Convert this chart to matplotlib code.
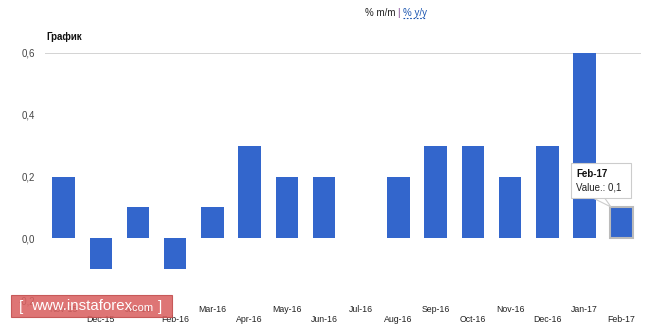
import numpy as np
import matplotlib.pyplot as plt
from matplotlib.patches import Polygon, Rectangle
from matplotlib.transforms import blended_transform_factory

plt.rcParams['font.family'] = ['Liberation Sans', 'DejaVu Sans']

months = ['Nov-15', 'Dec-15', 'Jan-16', 'Feb-16', 'Mar-16', 'Apr-16', 'May-16', 'Jun-16',
          'Jul-16', 'Aug-16', 'Sep-16', 'Oct-16', 'Nov-16', 'Dec-16', 'Jan-17', 'Feb-17']
values = [0.2, -0.1, 0.1, -0.1, 0.1, 0.3, 0.2, 0.2,
          0.0, 0.2, 0.3, 0.3, 0.2, 0.3, 0.6, 0.1]
yticks = [-0.2, 0.0, 0.2, 0.4, 0.6]
ytick_labels = ['-0,2', '0,0', '0,2', '0,4', '0,6']

bar_color = '#3366cc'
W, H = 663, 331

fig = plt.figure(figsize=(W / 100, H / 100), dpi=100)
fig.patch.set_facecolor('white')
ax = fig.add_axes([45 / W, 1 - 300 / H, 596 / W, 247 / H])

x = np.arange(len(months))
bars = ax.bar(x, values, width=0.605, color=bar_color, zorder=2)
ax.set_xlim(-0.5, 15.52)
ax.set_ylim(-0.2, 0.6)

for s in ax.spines.values():
    s.set_visible(False)
ax.axhline(0.6, color='#cccccc', lw=1.2, zorder=1)
ax.set_xticks([])
ax.set_yticks(yticks)
ax.set_yticklabels(ytick_labels, fontsize=7, color='#444444')
ax.tick_params(axis='y', length=0, pad=7)

# month labels in two staggered rows
tr = blended_transform_factory(ax.transData, fig.transFigure)
for i, m in enumerate(months):
    yy = 1 - 309 / H if i % 2 == 0 else 1 - 320 / H
    ax.text(i, yy, m, transform=tr, ha='center', va='center', fontsize=6.3,
            color='#222222', clip_on=False)

# highlighted last bar with tooltip
last = bars[-1]
last.set_edgecolor('#bbbbbb')
last.set_linewidth(1.5)
ft = fig.transFigure
fig.patches.append(Polygon([[591 / W, 1 - 197 / H], [604 / W, 1 - 197 / H], [611 / W, 1 - 207 / H]],
                           closed=True, transform=ft, facecolor='white', edgecolor='#cccccc', lw=0.8, zorder=5))
fig.patches.append(Rectangle((571 / W, 1 - 198 / H), 60 / W, 35 / H, transform=ft,
                             facecolor='white', edgecolor='#cccccc', lw=0.8, zorder=5))
fig.text(576 / W, 1 - 174 / H, 'Feb-17', fontsize=7, fontweight='bold', color='#111111',
         va='center', zorder=6)
fig.text(576 / W, 1 - 187 / H, 'Value.: 0,1', fontsize=7, color='#222222', va='center', zorder=6)

# header texts
fig.text(46 / W, 1 - 37 / H, 'График', fontsize=7, fontweight='bold', color='#111111', va='center')
fig.text(365 / W, 1 - 13 / H, '% m/m', fontsize=7, color='#222222', va='center')
fig.text(397.5 / W, 1 - 13 / H, '|', fontsize=7, color='#7a3a8a', va='center')
fig.text(403 / W, 1 - 13 / H, '% y/y', fontsize=7, color='#1a55b0', va='center')
fig.lines.append(plt.Line2D([403 / W, 426 / W], [1 - 18 / H, 1 - 18 / H], transform=ft,
                            color='#1a55b0', lw=0.8, ls=(0, (1.5, 1.5))))

# watermark
fig.patches.append(Rectangle((11 / W, 1 - 317 / H), 161 / W, 22 / H, transform=ft,
                             facecolor='#da6262', edgecolor='#c24c4c', alpha=0.88, lw=0.8, zorder=7))
fig.text(19 / W, 1 - 307 / H, '[', fontsize=11, color='white', va='center', zorder=8)
fig.text(31 / W, 1 - 306 / H, 'www.instaforex', fontsize=10.8, color='white', va='center', zorder=8)
fig.text(129 / W, 1 - 308 / H, '.com', fontsize=8, color='white', va='center', zorder=8)
fig.text(158 / W, 1 - 307 / H, ']', fontsize=11, color='white', va='center', zorder=8)

fig.savefig('out.png', dpi=100)
